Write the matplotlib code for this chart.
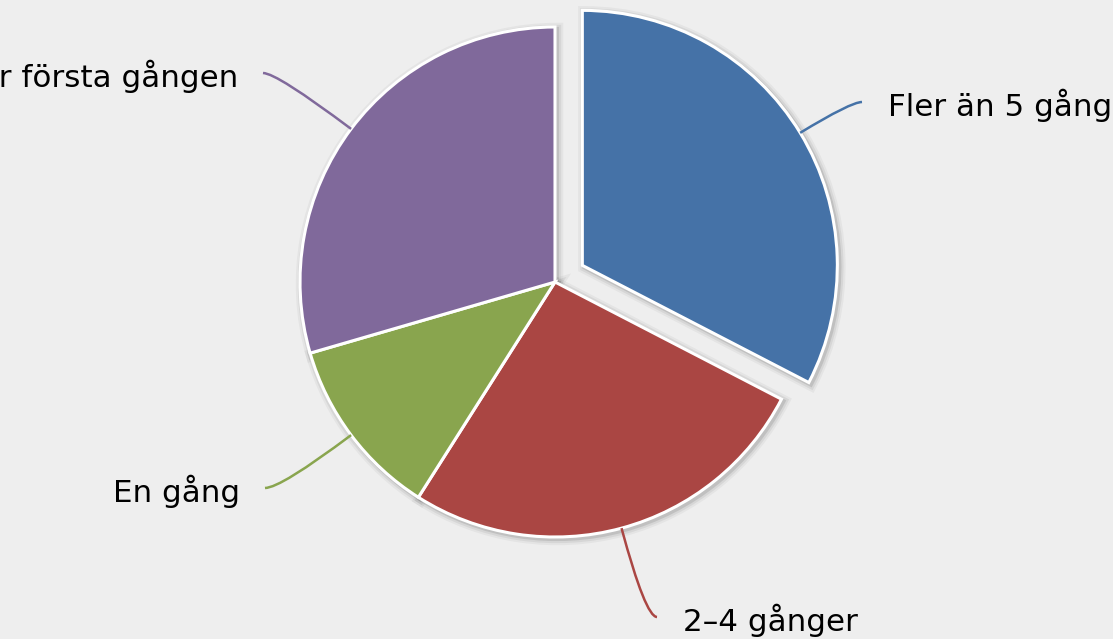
import numpy as np
import matplotlib.pyplot as plt
from matplotlib.path import Path
from matplotlib.patches import PathPatch

# data (share of answers)
labels = ['Fler än 5 gånger', '2–4 gånger', 'En gång', 'För första gången']
values = [32.6, 26.4, 11.5, 29.5]
colors = ['#4572A7', '#AA4643', '#89A54E', '#80699B']

W, H = 1113, 639
bg = '#EEEEEE'

# layout, in screen pixels (y measured from the top)
cx, cy, r = 555, 282, 255
slice_off = 32
label_end = [(862, 102), (657, 617), (265, 488), (263, 73)]

fig = plt.figure(figsize=(W / 100, H / 100), dpi=100, facecolor=bg)
ax = fig.add_axes([0, 0, 1, 1])
ax.set_facecolor(bg)
ax.set_xlim(0, W)
ax.set_ylim(0, H)
ax.set_aspect('equal')
ax.axis('off')

# matplotlib's explode is in data units, here pixels
explode = [slice_off, 0, 0, 0]
center = (cx, H - cy)

# soft shadow underneath
for lw, a in [(9, 0.04), (6, 0.06), (3, 0.10)]:
    ax.pie(values, center=(cx + 2, H - cy - 2), radius=r, startangle=90,
           counterclock=False, explode=explode, colors=['none'] * 4,
           wedgeprops=dict(linewidth=lw, edgecolor=(0, 0, 0, a)))

wedges, _ = ax.pie(values, center=center, radius=r, startangle=90,
                   counterclock=False, explode=explode, colors=colors,
                   wedgeprops=dict(linewidth=2.2, edgecolor='white'))

# restore the pixel frame (pie resets limits)
ax.set_xlim(0, W)
ax.set_ylim(0, H)

# connectors + labels
for w, lab, col, (ex, ey) in zip(wedges, labels, colors, label_end):
    mid = np.deg2rad((w.theta1 + w.theta2) / 2)
    wx, wy = w.center
    dx, dy = np.cos(mid), np.sin(mid)
    sx, sy = wx + r * dx, wy + r * dy
    ty = H - ey
    t = (ty - sy) / dy if abs(dy) > 1e-6 else 40
    ctrl = (sx + t * dx, ty)
    path = Path([(sx, sy), ctrl, (ex, ty)], [Path.MOVETO, Path.CURVE3, Path.CURVE3])
    ax.add_patch(PathPatch(path, facecolor='none', edgecolor=col, lw=1.8))
    right = ex > cx
    tx = ex + 26 if right else ex - 25
    ax.text(tx, ty - 14, lab, ha='left' if right else 'right', va='baseline',
            fontsize=22.3, color='#000000', family='DejaVu Sans')

fig.savefig('out.png', dpi=100, facecolor=bg)
